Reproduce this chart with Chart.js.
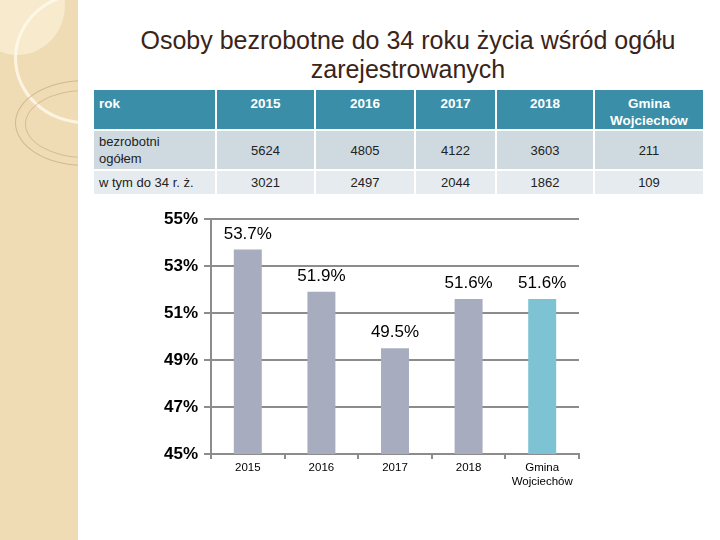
<!DOCTYPE html>
<html>
<head>
<meta charset="utf-8">
<script src="https://cdn.jsdelivr.net/npm/chart.js@4"></script>
<style>
  body { margin: 0; width: 720px; height: 540px; background: #fff; position: relative; overflow: hidden; font-family: "Liberation Sans", Arial, sans-serif; }
  #stripe { position: absolute; left: 0; top: 0; width: 78px; height: 540px; background: #f0dcb4; overflow: hidden; }
  .ring { position: absolute; border-radius: 50%; box-sizing: border-box; }
  #title { position: absolute; left: 100px; width: 616px; top: 26px; text-align: center; font-size: 25px; line-height: 29px; color: #3a2418; }
  #tbl { position: absolute; left: 92px; top: 88px; border-collapse: separate; border-spacing: 2px; font-size: 13px; color: #222; table-layout: fixed; }
  #tbl td { padding: 0 5px; box-sizing: border-box; text-align: center; }
  #tbl tr.head td { background: #3b8ea7; color: #fff; font-weight: bold; font-size: 13.5px; height: 37px; vertical-align: top; padding-top: 5px; line-height: 17px; }
  #tbl tr.r1 td { background: #cfdae0; height: 38px; line-height: 17px; }
  #tbl tr.r2 td { background: #e5ebee; height: 23px; }
  #tbl tr td.first { text-align: left; }
  #wrap { position: absolute; left: 140px; top: 200px; width: 460px; height: 300px; }
</style>
</head>
<body>
<div id="stripe">
  <div class="ring" style="left:-30px;top:-45px;width:95px;height:100px;background:rgba(255,250,235,0.45);"></div>
  <div class="ring" style="left:14px;top:-8px;width:142px;height:132px;border:3px solid rgba(255,250,238,0.8);"></div>
  <div class="ring" style="left:15px;top:80px;width:140px;height:86px;border:1px solid rgba(190,160,120,0.6);"></div>
  <div class="ring" style="left:25px;top:90px;width:120px;height:68px;border:1px solid rgba(190,160,120,0.5);"></div>
</div>
<div id="title">Osoby bezrobotne do 34 roku życia wśród ogółu<br>zarejestrowanych</div>
<table id="tbl"></table>
<div id="wrap"><canvas id="c" width="460" height="300"></canvas></div>
<script>
const categories = ['2015', '2016', '2017', '2018', 'Gmina Wojciechów'];
const totalUnemployed = [5624, 4805, 4122, 3603, 211];
const under34 = [3021, 2497, 2044, 1862, 109];
const shareUnder34 = [53.7, 51.9, 49.5, 51.6, 51.6];
const yTicks = [45, 47, 49, 51, 53, 55];

// tabela nad wykresem
const tbl = document.getElementById('tbl');
const widths = [121, 97, 98, 79, 96, 108];
function row(cls, first, vals) {
  let h = '<tr class="' + cls + '"><td class="first" style="width:' + widths[0] + 'px">' + first + '</td>';
  vals.forEach((v, i) => { h += '<td style="width:' + widths[i + 1] + 'px">' + v + '</td>'; });
  return h + '</tr>';
}
tbl.innerHTML =
  row('head', 'rok', categories.map(c => c.replace(' ', '<br>'))) +
  row('r1', 'bezrobotni<br>ogółem', totalUnemployed) +
  row('r2', 'w tym do 34 r. ż.', under34);

const barColors = ['#a8acbf', '#a8acbf', '#a8acbf', '#a8acbf', '#7ec3d4'];

const valueLabels = {
  id: 'valueLabels',
  afterDatasetsDraw(chart) {
    const ctx = chart.ctx;
    ctx.save();
    ctx.font = '17px "Liberation Sans", Arial, sans-serif';
    ctx.fillStyle = '#000';
    ctx.textAlign = 'center';
    ctx.textBaseline = 'alphabetic';
    chart.getDatasetMeta(0).data.forEach((bar, i) => {
      ctx.fillText(shareUnder34[i].toFixed(1) + '%', bar.x, bar.y - 11);
    });
    ctx.restore();
  }
};

new Chart(document.getElementById('c'), {
  type: 'bar',
  data: {
    labels: categories.map(c => c.includes(' ') ? c.split(' ') : c),
    datasets: [{
      data: shareUnder34,
      backgroundColor: barColors,
      barPercentage: 0.38,
      categoryPercentage: 1
    }]
  },
  options: {
    responsive: false,
    animation: false,
    layout: { padding: { top: 19, right: 21 } },
    plugins: { legend: { display: false }, tooltip: { enabled: false } },
    scales: {
      x: {
        grid: { drawOnChartArea: false, color: '#8c8c8c', lineWidth: 2, tickLength: 5 },
        border: { color: '#8c8c8c', width: 2 },
        ticks: { color: '#000', font: { size: 11.5, family: '"Liberation Sans", Arial' }, padding: 2, maxRotation: 0 },
        afterFit(s) { s.height = 46; }
      },
      y: {
        min: 45, max: 55,
        afterBuildTicks(s) { s.ticks = yTicks.map(v => ({ value: v })); },
        grid: { color: '#8c8c8c', lineWidth: 2, tickLength: 7 },
        border: { color: '#8c8c8c', width: 2 },
        ticks: { color: '#000', font: { size: 17, weight: 'bold', family: '"Liberation Sans", Arial' }, padding: 6, callback: v => v + '%' },
        afterFit(s) { s.width = 71; }
      }
    }
  },
  plugins: [valueLabels]
});
</script>
</body>
</html>
